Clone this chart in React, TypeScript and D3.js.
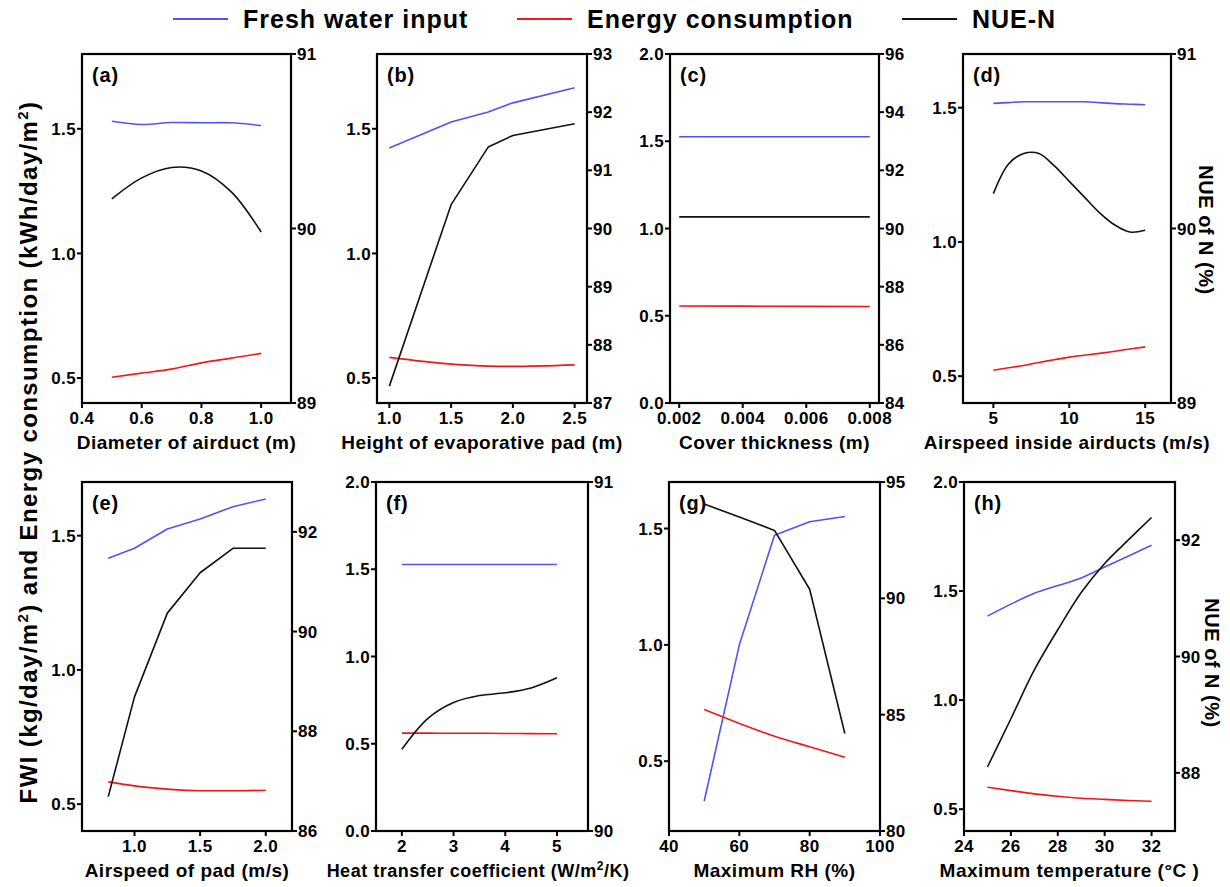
import React from "react";
import * as d3 from "d3";

// ---------- data ----------
const seriesNames = ["Fresh water input", "Energy consumption", "NUE-N"];

// (a) Diameter of airduct (m)
const aX = [0.5, 0.6, 0.7, 0.8, 0.9, 1.0];
const aFwi = [1.53, 1.517, 1.525, 1.524, 1.524, 1.513];
const aEnergy = [0.503, 0.52, 0.536, 0.561, 0.58, 0.599];
const aNue = [90.17, 90.29, 90.35, 90.33, 90.21, 89.98];

// (b) Height of evaporative pad (m)
const bX = [1.0, 1.5, 1.8, 2.0, 2.5];
const bFwi = [1.423, 1.527, 1.567, 1.604, 1.665];
const bEnergy = [0.583, 0.556, 0.548, 0.547, 0.553];
const bNue = [87.29, 90.41, 91.4, 91.6, 91.8];

// (c) Cover thickness (m)
const cX = [0.002, 0.004, 0.006, 0.008];
const cFwi = [1.526, 1.526, 1.526, 1.526];
const cEnergy = [0.556, 0.555, 0.554, 0.553];
const cNue = [90.4, 90.4, 90.4, 90.4];

// (d) Airspeed inside airducts (m/s)
const dX = [5, 6, 7, 8, 9, 10, 11, 12, 13, 14, 15];
const dFwi = [1.516, 1.519, 1.522, 1.522, 1.522, 1.522, 1.522, 1.519, 1.515, 1.513, 1.511];
const dEnergy = [0.522, 0.531, 0.54, 0.551, 0.561, 0.571, 0.578, 0.585, 0.593, 0.601, 0.609];
const dNue = [90.2, 90.37, 90.43, 90.43, 90.36, 90.27, 90.18, 90.09, 90.02, 89.98, 89.99];

// (e) Airspeed of pad (m/s)
const eX = [0.8, 1.0, 1.25, 1.5, 1.75, 2.0];
const eFwi = [1.416, 1.453, 1.525, 1.562, 1.608, 1.637];
const eEnergy = [0.583, 0.568, 0.556, 0.55, 0.55, 0.552];
const eNue = [86.69, 88.69, 90.37, 91.18, 91.67, 91.67];

// (f) Heat transfer coefficient (W/m2/K)
const fX = [2, 2.5, 3, 3.5, 4, 4.5, 5];
const fFwi = [1.527, 1.527, 1.527, 1.527, 1.527, 1.527, 1.527];
const fEnergy = [0.561, 0.561, 0.56, 0.56, 0.559, 0.558, 0.557];
const fNue = [90.234, 90.322, 90.368, 90.388, 90.396, 90.41, 90.439];

// (g) Maximum RH (%)
const gX = [50, 60, 70, 80, 90];
const gFwi = [0.328, 1.0, 1.471, 1.529, 1.552];
const gEnergy = [0.722, 0.662, 0.607, 0.562, 0.517];
const gNue = [94.05, 93.5, 92.92, 90.39, 84.19];

// (h) Maximum temperature (°C)
const hX = [25, 26, 27, 28, 29, 30, 31, 32];
const hFwi = [1.385, 1.44, 1.49, 1.525, 1.56, 1.61, 1.66, 1.71];
const hEnergy = [0.601, 0.585, 0.57, 0.559, 0.55, 0.545, 0.54, 0.536];
const hNue = [88.1, 88.93, 89.77, 90.46, 91.1, 91.6, 92.0, 92.39];

// tick values
const aXTicks = [0.4, 0.6, 0.8, 1.0];
const bXTicks = [1.0, 1.5, 2.0, 2.5];
const cXTicks = [0.002, 0.004, 0.006, 0.008];
const dXTicks = [5, 10, 15];
const eXTicks = [1.0, 1.5, 2.0];
const fXTicks = [2, 3, 4, 5];
const gXTicks = [40, 60, 80, 100];
const hXTicks = [24, 26, 28, 30, 32];
const leftTicks3 = [0.5, 1.0, 1.5];
const leftTicks5 = [0.0, 0.5, 1.0, 1.5, 2.0];
const hLeftTicks = [0.5, 1.0, 1.5, 2.0];
const aRightTicks = [89, 90, 91];
const bRightTicks = [87, 88, 89, 90, 91, 92, 93];
const cRightTicks = [84, 86, 88, 90, 92, 94, 96];
const eRightTicks = [86, 88, 90, 92];
const fRightTicks = [90, 91];
const gRightTicks = [80, 85, 90, 95];
const hRightTicks = [88, 90, 92];

// ---------- styling ----------
const FONT = "'Liberation Sans', Arial, Helvetica, sans-serif";
const BLUE = "#5252f5";
const RED = "#f01818";
const BLACK = "#111";

type Panel = {
  key: string;
  label: string;
  box: [number, number, number, number]; // left, top, right, bottom
  xDomain: [number, number];
  xTicks: number[];
  xFmt: string;
  yDomain: [number, number];
  yTicks: number[];
  y2Domain: [number, number];
  y2Ticks: number[];
  x: number[];
  fwi: number[];
  energy: number[];
  nue: number[];
  smooth: boolean;
  title: React.ReactNode;
  titleSize: number;
  titleDx?: number;
};

const panels: Panel[] = [
  {
    key: "a", label: "(a)", box: [82, 54, 291, 403], xDomain: [0.4, 1.1], xTicks: aXTicks, xFmt: ".1f",
    yDomain: [0.4, 1.8], yTicks: leftTicks3, y2Domain: [89, 91], y2Ticks: aRightTicks,
    x: aX, fwi: aFwi, energy: aEnergy, nue: aNue, smooth: true,
    title: "Diameter of airduct (m)", titleSize: 19,
  },
  {
    key: "b", label: "(b)", box: [377, 54, 587, 403], xDomain: [0.9, 2.6], xTicks: bXTicks, xFmt: ".1f",
    yDomain: [0.4, 1.8], yTicks: leftTicks3, y2Domain: [87, 93], y2Ticks: bRightTicks,
    x: bX, fwi: bFwi, energy: bEnergy, nue: bNue, smooth: false,
    title: "Height of evaporative pad (m)", titleSize: 19,
  },
  {
    key: "c", label: "(c)", box: [670, 54, 879, 403], xDomain: [0.00171, 0.00829], xTicks: cXTicks, xFmt: ".3f",
    yDomain: [0, 2], yTicks: leftTicks5, y2Domain: [84, 96], y2Ticks: cRightTicks,
    x: cX, fwi: cFwi, energy: cEnergy, nue: cNue, smooth: true,
    title: "Cover thickness (m)", titleSize: 19,
  },
  {
    key: "d", label: "(d)", box: [963, 54, 1171, 403], xDomain: [3, 16.7], xTicks: dXTicks, xFmt: "d",
    yDomain: [0.4, 1.7], yTicks: leftTicks3, y2Domain: [89, 91], y2Ticks: aRightTicks,
    x: dX, fwi: dFwi, energy: dEnergy, nue: dNue, smooth: true,
    title: "Airspeed inside airducts (m/s)", titleSize: 19,
  },
  {
    key: "e", label: "(e)", box: [82, 482, 292, 831], xDomain: [0.6, 2.2], xTicks: eXTicks, xFmt: ".1f",
    yDomain: [0.4, 1.7], yTicks: leftTicks3, y2Domain: [86, 93], y2Ticks: eRightTicks,
    x: eX, fwi: eFwi, energy: eEnergy, nue: eNue, smooth: false,
    title: "Airspeed of pad (m/s)", titleSize: 19,
  },
  {
    key: "f", label: "(f)", box: [376, 482, 588, 831], xDomain: [1.5, 5.6], xTicks: fXTicks, xFmt: "d",
    yDomain: [0, 2], yTicks: leftTicks5, y2Domain: [90, 91], y2Ticks: fRightTicks,
    x: fX, fwi: fFwi, energy: fEnergy, nue: fNue, smooth: true,
    title: (
      <>
        Heat transfer coefficient (W/m
        <tspan dy={-7} fontSize={12}>2</tspan>
        <tspan dy={7}>/K)</tspan>
      </>
    ),
    titleSize: 18, titleDx: -4,
  },
  {
    key: "g", label: "(g)", box: [669, 482, 880, 831], xDomain: [40, 100], xTicks: gXTicks, xFmt: "d",
    yDomain: [0.2, 1.7], yTicks: leftTicks3, y2Domain: [80, 95], y2Ticks: gRightTicks,
    x: gX, fwi: gFwi, energy: gEnergy, nue: gNue, smooth: false,
    title: "Maximum RH (%)", titleSize: 19,
  },
  {
    key: "h", label: "(h)", box: [964, 482, 1175, 831], xDomain: [24, 33], xTicks: hXTicks, xFmt: "d",
    yDomain: [0.4, 2.0], yTicks: hLeftTicks, y2Domain: [87, 93], y2Ticks: hRightTicks,
    x: hX, fwi: hFwi, energy: hEnergy, nue: hNue, smooth: true,
    title: "Maximum temperature (°C )", titleSize: 19,
  },
];

function PanelView({ p }: { p: Panel }) {
  const [l, t, r, b] = p.box;
  const xs = d3.scaleLinear().domain(p.xDomain).range([l, r]);
  const ys = d3.scaleLinear().domain(p.yDomain).range([b, t]);
  const y2 = d3.scaleLinear().domain(p.y2Domain).range([b, t]);
  const curve = p.smooth ? d3.curveCatmullRom.alpha(0.5) : d3.curveLinear;
  const idx = p.x.map((_, i) => i);
  const fwiPath = d3.line<number>().x((i) => xs(p.x[i])).y((i) => ys(p.fwi[i])).curve(curve)(idx) || "";
  const enPath = d3.line<number>().x((i) => xs(p.x[i])).y((i) => ys(p.energy[i])).curve(d3.curveMonotoneX)(idx) || "";
  const nuePath = d3.line<number>().x((i) => xs(p.x[i])).y((i) => y2(p.nue[i])).curve(curve)(idx) || "";
  const xf = d3.format(p.xFmt);
  const yf = d3.format(".1f");
  const tickFont = 17;
  return (
    <g>
      <defs>
        <clipPath id={`clip-${p.key}`}>
          <rect x={l} y={t} width={r - l} height={b - t} />
        </clipPath>
      </defs>
      <g clipPath={`url(#clip-${p.key})`} fill="none" strokeWidth={1.6} strokeLinejoin="round">
        <path d={fwiPath} stroke={BLUE} />
        <path d={enPath} stroke={RED} />
        <path d={nuePath} stroke={BLACK} />
      </g>
      <rect x={l} y={t} width={r - l} height={b - t} fill="none" stroke="#000" strokeWidth={2.2} />
      {p.xTicks.map((v) => (
        <g key={"x" + v}>
          <line x1={xs(v)} x2={xs(v)} y1={b} y2={b + 5} stroke="#000" strokeWidth={2} />
          <text x={xs(v)} y={b + 21} textAnchor="middle" fontSize={tickFont} fontWeight="bold" letterSpacing={0.4}>
            {xf(v)}
          </text>
        </g>
      ))}
      {p.yTicks.map((v) => (
        <g key={"y" + v}>
          <line x1={l - 5} x2={l} y1={ys(v)} y2={ys(v)} stroke="#000" strokeWidth={2} />
          <text x={l - 6} y={ys(v)} dy="0.36em" textAnchor="end" fontSize={tickFont} fontWeight="bold" letterSpacing={0.4}>
            {yf(v)}
          </text>
        </g>
      ))}
      {p.y2Ticks.map((v) => (
        <g key={"r" + v}>
          <line x1={r} x2={r + 5} y1={y2(v)} y2={y2(v)} stroke="#000" strokeWidth={2} />
          <text x={r + 6} y={y2(v)} dy="0.36em" textAnchor="start" fontSize={tickFont} fontWeight="bold" letterSpacing={0.4}>
            {d3.format("d")(v)}
          </text>
        </g>
      ))}
      <text x={l + 10} y={t + 28} fontSize={20} fontWeight="bold" letterSpacing={0.8}>
        {p.label}
      </text>
      <text
        x={(l + r) / 2 + (p.titleDx || 0)}
        y={b + 46}
        textAnchor="middle"
        fontSize={p.titleSize}
        fontWeight="bold"
        letterSpacing={0.5}
      >
        {p.title}
      </text>
    </g>
  );
}

const legendColors = [BLUE, RED, BLACK];
const legendX = [173, 517, 902];

export default function App() {
  return (
    <svg
      width={1230}
      height={887}
      style={{ position: "absolute", left: 0, top: 0, background: "#fff" }}
      fontFamily={FONT}
    >
      <rect x={0} y={0} width={1230} height={887} fill="#fff" />
      {seriesNames.map((n, i) => (
        <g key={n}>
          <line x1={legendX[i]} x2={legendX[i] + 55} y1={19} y2={19} stroke={legendColors[i]} strokeWidth={1.8} />
          <text x={legendX[i] + 70} y={28} fontSize={25} fontWeight="bold" letterSpacing={1}>
            {n}
          </text>
        </g>
      ))}
      {panels.map((p) => (
        <PanelView key={p.key} p={p} />
      ))}
      <text
        transform="translate(37,452) rotate(-90)"
        textAnchor="middle"
        fontSize={24}
        fontWeight="bold"
        letterSpacing={1.4}
      >
        FWI (kg/day/m<tspan dy={-9} fontSize={15}>2</tspan>
        <tspan dy={9}>) and Energy consumption (kWh/day/m</tspan>
        <tspan dy={-9} fontSize={15}>2</tspan>
        <tspan dy={9}>)</tspan>
      </text>
      <text transform="translate(1199,230) rotate(90)" textAnchor="middle" fontSize={20} fontWeight="bold" letterSpacing={0.5}>
        NUE of N (%)
      </text>
      <text transform="translate(1205,663) rotate(90)" textAnchor="middle" fontSize={20} fontWeight="bold" letterSpacing={0.5}>
        NUE of N (%)
      </text>
    </svg>
  );
}
